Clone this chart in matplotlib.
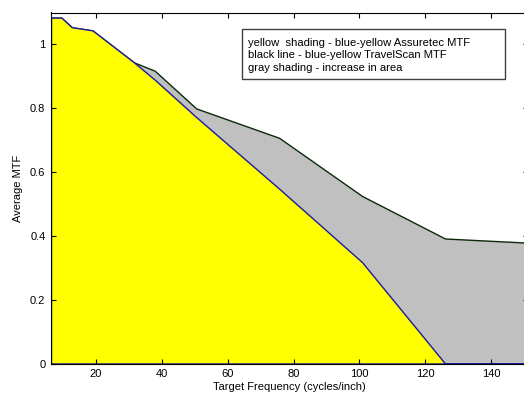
# MTF comparison: Assuretec vs TravelScan, shaded area plot
import matplotlib
matplotlib.use("Agg")
import matplotlib.pyplot as plt
from matplotlib.patches import Rectangle

plt.rcParams['font.family'] = ['Liberation Sans', 'DejaVu Sans']

# target frequencies (cycles/inch)
freq = [6.3, 9.45, 12.6, 18.9, 25.2, 31.5, 37.8, 50.4, 75.6, 100.8, 126.0, 151.2]
# blue-yellow Assuretec MTF (yellow shading)
assuretec = [1.082, 1.082, 1.052, 1.042, 0.992, 0.942, 0.888, 0.771, 0.547, 0.317, 0.0, 0.0]
# blue-yellow TravelScan MTF (black line)
travelscan = [1.082, 1.082, 1.052, 1.042, 0.992, 0.942, 0.916, 0.798, 0.706, 0.524, 0.391, 0.378]

xticks = [20, 40, 60, 80, 100, 120, 140]
yticks = [0, 0.2, 0.4, 0.6, 0.8, 1]
legend_lines = ["yellow  shading - blue-yellow Assuretec MTF",
                "black line - blue-yellow TravelScan MTF",
                "gray shading - increase in area"]

W, H = 524, 394
fig = plt.figure(figsize=(W / 100, H / 100), dpi=100)
ax = fig.add_axes([51 / W, 30.5 / H, 477 / W, 351 / H])

# gray area first, then yellow on top of it
ax.fill_between(freq, 0, travelscan, facecolor='#c0c0c0', edgecolor='#0a2a0a', linewidth=1.0)
ax.fill_between(freq, 0, assuretec, facecolor='#ffff00', edgecolor='#1c1c9c', linewidth=1.0)

ax.set_xlim(freq[0], freq[-1])
ax.set_ylim(0, 1.098)
ax.set_xticks(xticks)
ax.set_yticks(yticks)
ax.set_yticklabels(['0', '0.2', '0.4', '0.6', '0.8', '1'])
ax.tick_params(direction='in', length=3.5, width=0.8, top=True, right=True,
               labelsize=8, pad=4)
for s in ax.spines.values():
    s.set_linewidth(0.8)

ax.set_xlabel('Target Frequency (cycles/inch)', fontsize=8, labelpad=2)
ax.set_ylabel('Average MTF', fontsize=8, labelpad=5)

# text box (fixed size, like the matlab annotation)
box = Rectangle((241.7 / W, 1 - 79.3 / H), (505 - 241.7) / W, 50 / H,
                transform=fig.transFigure, facecolor='white', edgecolor='#404040',
                linewidth=1.0, zorder=5)
fig.add_artist(box)
for i, line in enumerate(legend_lines):
    fig.text(248 / W, 1 - (42.7 + 12.5 * i) / H, line, fontsize=8.1,
             va='center', ha='left', zorder=6)

fig.savefig('out.png', dpi=100)
